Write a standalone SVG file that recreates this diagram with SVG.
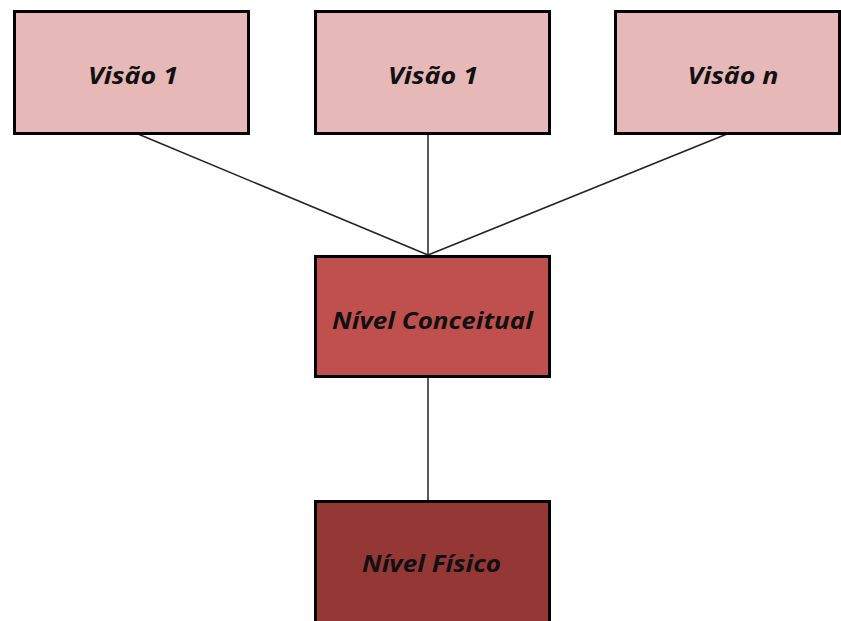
<svg xmlns="http://www.w3.org/2000/svg" width="841" height="621" viewBox="0 0 841 621">
<style>
.box{stroke:#000;stroke-width:3}
.lbl{font-family:"Open Sans","Noto Sans","Liberation Sans",sans-serif;font-style:italic;font-weight:700;font-size:23px;fill:#111;text-anchor:middle;dominant-baseline:central}
.conn line{stroke:#222;stroke-width:1.5}
</style>
<rect width="841" height="621" fill="#fff"/>
<g class="conn">
<line x1="138" y1="134" x2="428" y2="255"/>
<line x1="428" y1="134" x2="428" y2="255"/>
<line x1="727" y1="134" x2="428" y2="255"/>
<line x1="428" y1="377" x2="428" y2="500"/>
</g>
<g id="visao1a"><rect class="box" x="14.5" y="11.5" width="234" height="122" fill="#E6B8B7"/><text class="lbl" x="133" y="75" textLength="90" lengthAdjust="spacingAndGlyphs">Visão 1</text></g>
<g id="visao1b"><rect class="box" x="315.5" y="11.5" width="234" height="122" fill="#E6B8B7"/><text class="lbl" x="433" y="75" textLength="90" lengthAdjust="spacingAndGlyphs">Visão 1</text></g>
<g id="visaon"><rect class="box" x="615.5" y="11.5" width="224" height="122" fill="#E6B8B7"/><text class="lbl" x="733" y="75" textLength="91" lengthAdjust="spacingAndGlyphs">Visão n</text></g>
<g id="conceitual"><rect class="box" x="315.5" y="256.5" width="234" height="120" fill="#C0504D"/><text class="lbl" x="432.5" y="320" textLength="201" lengthAdjust="spacingAndGlyphs">Nível Conceitual</text></g>
<g id="fisico"><rect class="box" x="315.5" y="501.5" width="234" height="130" fill="#953735"/><text class="lbl" x="431.5" y="563" textLength="139" lengthAdjust="spacingAndGlyphs">Nível Físico</text></g>
</svg>
